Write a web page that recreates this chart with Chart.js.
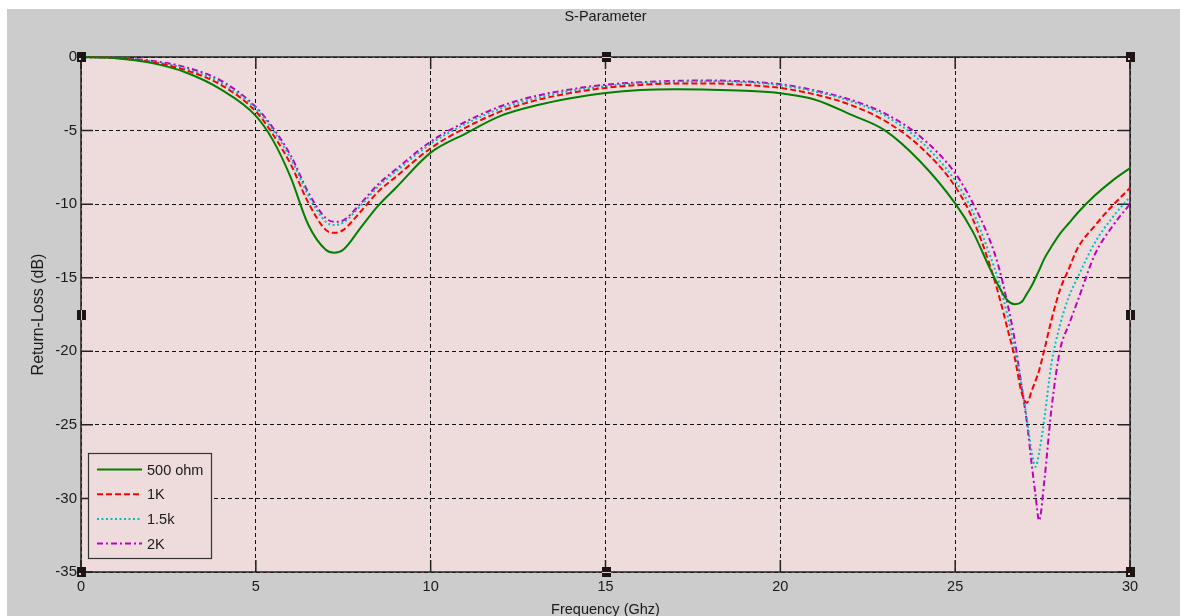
<!DOCTYPE html>
<html>
<head>
<meta charset="utf-8">
<script src="https://cdn.jsdelivr.net/npm/chart.js@4.4.1/dist/chart.umd.min.js"></script>
<style>
  html, body { margin: 0; padding: 0; background: #ffffff; overflow: hidden; width: 1180px; height: 616px; }
  #wrap { position: absolute; left: 0; top: 0; width: 1180px; height: 630px; }
</style>
</head>
<body>
<div id="wrap"><canvas id="chart" width="1180" height="630"></canvas></div>
<script>
// Frequency sweep (GHz) and return loss (dB) for each load value
const freqGhz = [0, 1, 2, 3, 4, 5, 5.5, 6, 6.5, 7, 7.25, 7.5, 8, 8.5, 9, 10, 11, 12, 13, 14,
                 15, 16, 17, 18, 19, 20, 21, 22, 23, 24, 25, 25.5, 26, 26.25, 26.5, 26.7, 26.9,
                 27.05, 27.2, 27.3, 27.4, 27.55, 27.75, 28, 28.25, 28.5, 29, 29.5, 30];

const loss500 = [0, -0.08, -0.4, -1.05, -2.2, -4.0, -5.7, -8.2, -11.4, -13.1, -13.3, -13.1, -11.6, -10.1, -8.9,
                 -6.5, -5.2, -4.0, -3.3, -2.8, -2.45, -2.25, -2.2, -2.22, -2.3, -2.47, -2.9, -3.9, -5.0, -7.1,
                 -9.95, -11.85, -14.4, -15.6, -16.55, -16.8, -16.65, -16.1, -15.5, -15.0, -14.5, -13.7, -12.9,
                 -12.0, -11.3, -10.6, -9.4, -8.4, -7.55];

const loss1k = [0, -0.07, -0.35, -0.9, -1.9, -3.7, -5.3, -7.3, -9.9, -11.75, -11.95, -11.75, -10.5, -9.15, -8.15,
                -6.2, -4.8, -3.7, -2.95, -2.45, -2.1, -1.9, -1.8, -1.8, -1.9, -2.1, -2.55, -3.25, -4.35, -6.1,
                -8.8, -11.0, -14.2, -16.2, -18.5, -20.4, -22.8, -23.5, -22.6, -22.0, -21.3, -19.9, -17.9,
                -15.8, -14.4, -13.0, -11.45, -10.1, -8.9];

const loss1k5 = [0, -0.06, -0.3, -0.8, -1.75, -3.5, -5.0, -6.9, -9.4, -11.2, -11.42, -11.25, -10.1, -8.8, -7.8,
                 -5.9, -4.55, -3.5, -2.8, -2.3, -1.98, -1.78, -1.68, -1.66, -1.72, -1.92, -2.35, -3.0, -4.0, -5.7,
                 -8.4, -10.5, -13.5, -15.3, -17.6, -19.9, -22.3, -24.6, -27.0, -27.85, -26.9, -24.6, -20.9,
                 -18.2, -16.3, -15.0, -12.6, -10.9, -9.5];

const loss2k = [0, -0.05, -0.25, -0.7, -1.6, -3.4, -4.85, -6.7, -9.2, -10.95, -11.2, -11.1, -9.95, -8.65, -7.65,
                -5.75, -4.4, -3.35, -2.65, -2.2, -1.88, -1.72, -1.62, -1.6, -1.66, -1.85, -2.28, -2.9, -3.85, -5.4,
                -7.9, -9.9, -12.5, -14.3, -16.8, -19.2, -22.4, -24.8, -27.9, -29.8, -31.5, -28.8, -24.0,
                -19.9, -18.2, -16.6, -13.4, -11.5, -10.0];

const seriesNames = ['500 ohm', '1K', '1.5k', '2K'];
const xRange = [0, 30];
const yRange = [-35, 0];
const tickStep = 5;

const FONT = '"Liberation Sans", Arial, sans-serif';
const TEXT = '#1a1a1a';
const FIG_BG = '#cccccc';
const AX_BG = '#eedcdc';

function points(values) {
  return freqGhz.map((f, i) => ({ x: f, y: values[i] }));
}

// Figure background, axes background
const backdrop = {
  id: 'backdrop',
  beforeDraw(chart) {
    const { ctx, chartArea: a } = chart;
    ctx.save();
    ctx.fillStyle = '#ffffff';
    ctx.fillRect(0, 0, chart.width, chart.height);
    ctx.fillStyle = FIG_BG;
    ctx.fillRect(7, 9, chart.width - 7, chart.height - 9);
    ctx.fillStyle = AX_BG;
    ctx.fillRect(a.left, a.top, a.right - a.left, a.bottom - a.top);
    ctx.restore();
  }
};

// Axes box with inward tick marks on all four sides
const axesBox = {
  id: 'axesBox',
  beforeDatasetsDraw(chart) {
    const { ctx, chartArea: a, scales: { x, y } } = chart;
    const len = 12;
    ctx.save();
    ctx.strokeStyle = '#222222';
    ctx.lineWidth = 1.5;
    ctx.beginPath();
    x.ticks.forEach(t => {
      const px = x.getPixelForValue(t.value);
      ctx.moveTo(px, a.bottom); ctx.lineTo(px, a.bottom - len);
      ctx.moveTo(px, a.top); ctx.lineTo(px, a.top + len);
    });
    y.ticks.forEach(t => {
      const py = y.getPixelForValue(t.value);
      ctx.moveTo(a.left, py); ctx.lineTo(a.left + len, py);
      ctx.moveTo(a.right, py); ctx.lineTo(a.right - len, py);
    });
    ctx.stroke();
    ctx.strokeRect(a.left, a.top, a.right - a.left, a.bottom - a.top);
    ctx.restore();
  },
  afterDraw(chart) {
    // selection handles on the axes frame
    const { ctx, chartArea: a } = chart;
    const cx = (a.left + a.right) / 2, cy = (a.top + a.bottom) / 2;
    const spots = [
      [a.left, a.top, 'c'], [cx, a.top, 'h'], [a.right, a.top, 'c'],
      [a.left, cy, 'v'], [a.right, cy, 'v'],
      [a.left, a.bottom, 'c'], [cx, a.bottom, 'h'], [a.right, a.bottom, 'c']
    ];
    ctx.save();
    spots.forEach(([hx, hy, kind]) => {
      const rx = Math.round(hx), ry = Math.round(hy);
      ctx.fillStyle = '#1e1414';
      ctx.fillRect(rx - 4, ry - 5, 9, 10);
      ctx.fillStyle = '#d8d0d0';
      if (kind === 'h') {
        ctx.fillRect(rx - 4, ry, 9, 1);
      } else if (kind === 'v') {
        ctx.fillRect(rx, ry - 5, 1, 10);
      } else {
        ctx.fillRect(rx - 2, ry + 1, 2, 2);
      }
    });
    ctx.restore();
  }
};

// Legend box in the lower-left corner of the axes
const boxLegend = {
  id: 'boxLegend',
  afterDraw(chart) {
    const { ctx } = chart;
    const bx = 88, by = 453, bw = 123, bh = 105;
    ctx.save();
    ctx.fillStyle = AX_BG;
    ctx.fillRect(bx, by, bw, bh);
    ctx.strokeStyle = '#333333';
    ctx.lineWidth = 1.2;
    ctx.strokeRect(bx + 0.5, by + 0.5, bw, bh);
    ctx.font = '14.5px ' + FONT;
    ctx.textBaseline = 'middle';
    ctx.textAlign = 'left';
    chart.data.datasets.forEach((ds, i) => {
      const ry = by + 16.5 + i * 24.7;
      ctx.strokeStyle = ds.borderColor;
      ctx.lineWidth = ds.borderWidth;
      ctx.setLineDash(ds.borderDash || []);
      ctx.beginPath();
      ctx.moveTo(97, ry);
      ctx.lineTo(142, ry);
      ctx.stroke();
      ctx.setLineDash([]);
      ctx.fillStyle = TEXT;
      ctx.fillText(ds.label, 147, ry + 1);
    });
    ctx.restore();
  }
};

const styles = [
  { color: '#008000', dash: [] },
  { color: '#ff0000', dash: [6, 3] },
  { color: '#00bfbf', dash: [2, 2.5] },
  { color: '#bf00bf', dash: [6, 3, 2, 3] }
];
const seriesValues = [loss500, loss1k, loss1k5, loss2k];

new Chart(document.getElementById('chart'), {
  type: 'line',
  data: {
    datasets: seriesValues.map((vals, i) => ({
      label: seriesNames[i],
      data: points(vals),
      borderColor: styles[i].color,
      borderDash: styles[i].dash,
      borderWidth: 2,
      pointRadius: 0,
      fill: false,
      cubicInterpolationMode: 'monotone',
      clip: 3
    }))
  },
  options: {
    responsive: false,
    animation: false,
    devicePixelRatio: 1,
    layout: { padding: { left: 0, top: 0, right: 50, bottom: 0 } },
    plugins: {
      legend: { display: false },
      tooltip: { enabled: false },
      title: {
        display: true,
        text: 'S-Parameter',
        fullSize: false,
        color: TEXT,
        font: { family: FONT, size: 14.5, weight: 'normal' },
        padding: { top: 8, bottom: 31.6 }
      }
    },
    scales: {
      x: {
        type: 'linear',
        min: xRange[0], max: xRange[1],
        afterFit(scale) { scale.height = 58; },
        ticks: { stepSize: tickStep, color: TEXT, padding: 6, maxRotation: 0,
                 font: { family: FONT, size: 14.5 } },
        grid: { color: '#111111', lineWidth: 1, drawTicks: false },
        border: { display: false, dash: [4, 3] },
        title: { display: true, text: 'Frequency (Ghz)', color: TEXT,
                 font: { family: FONT, size: 14.5 }, padding: { top: 0, bottom: 11.3 } }
      },
      y: {
        type: 'linear',
        min: yRange[0], max: yRange[1],
        afterFit(scale) { scale.width = 81; },
        ticks: { stepSize: tickStep, color: TEXT, padding: 4,
                 font: { family: FONT, size: 15 } },
        grid: { color: '#111111', lineWidth: 1, drawTicks: false },
        border: { display: false, dash: [4, 3] },
        title: { display: true, text: 'Return-Loss (dB)', color: TEXT,
                 font: { family: FONT, size: 16 }, padding: { top: 29.4, bottom: 0 } }
      }
    }
  },
  plugins: [backdrop, axesBox, boxLegend]
});
</script>
</body>
</html>
